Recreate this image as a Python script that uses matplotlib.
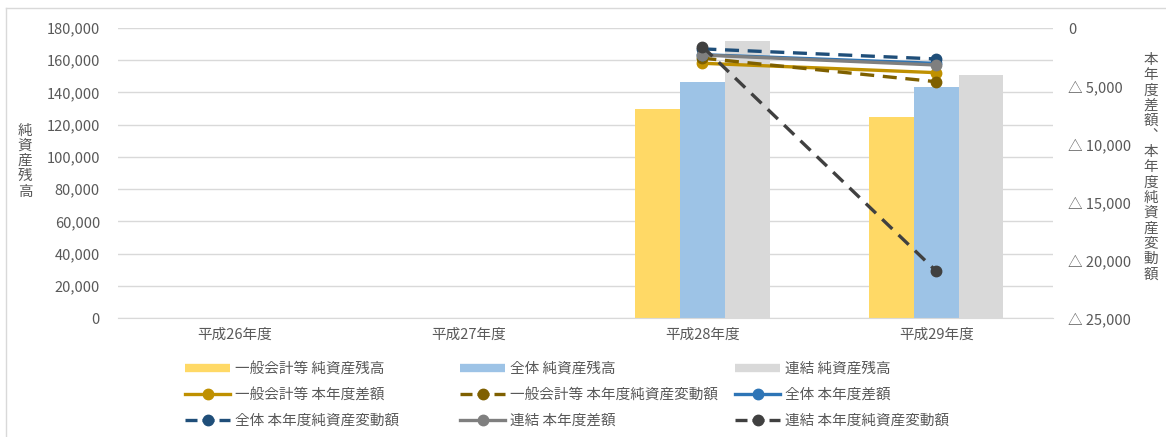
import numpy as np
import matplotlib
matplotlib.use('Agg')
import matplotlib.pyplot as plt
from matplotlib.lines import Line2D
from matplotlib.ticker import FuncFormatter, MultipleLocator

plt.rcParams['font.family'] = ['Noto Sans CJK JP', 'DejaVu Sans']

# data (千円), H26/H27 have no values
years = ['平成26年度', '平成27年度', '平成28年度', '平成29年度']

ippan_zan = [np.nan, np.nan, 129700, 125000]
zentai_zan = [np.nan, np.nan, 146700, 143600]
renketsu_zan = [np.nan, np.nan, 171900, 150800]

ippan_sagaku = [np.nan, np.nan, -3040, -3850]
ippan_hendo = [np.nan, np.nan, -2600, -4630]
zentai_sagaku = [np.nan, np.nan, -2300, -3050]
zentai_hendo = [np.nan, np.nan, -1800, -2670]
renketsu_sagaku = [np.nan, np.nan, -2330, -3190]
renketsu_hendo = [np.nan, np.nan, -1600, -20950]

txt = '#595959'
grid_c = '#D9D9D9'

fig = plt.figure(figsize=(11.66, 4.37), dpi=100)
ax = fig.add_axes([118/1166, 1-318/437, (1053-118)/1166, (318-28)/437])

x = np.arange(len(years))
w = 0.192
ax.bar(x - w, ippan_zan, w, color='#FFD966', label='一般会計等 純資産残高', zorder=2)
ax.bar(x, zentai_zan, w, color='#9DC3E6', label='全体 純資産残高', zorder=2)
ax.bar(x + w, renketsu_zan, w, color='#D9D9D9', label='連結 純資産残高', zorder=2)

ax.set_xlim(-0.5, 3.5)
ax.set_ylim(0, 180000)
ax.yaxis.set_major_locator(MultipleLocator(20000))
ax.yaxis.set_major_formatter(FuncFormatter(lambda v, p: f'{int(v):,}'))
ax.set_xticks(x)
ax.set_xticklabels(years)
ax.grid(axis='y', color=grid_c, linewidth=1.0, zorder=0)
ax.set_axisbelow(True)
for s in ['top', 'left', 'right']:
    ax.spines[s].set_visible(False)
ax.spines['bottom'].set_color(grid_c)
ax.tick_params(axis='both', length=0, colors=txt, labelsize=10.5)
ax.tick_params(axis='y', pad=13)
ax.tick_params(axis='x', pad=7)

ax2 = ax.twinx()
ax2.set_ylim(-25000, 0)
ax2.yaxis.set_major_locator(MultipleLocator(5000))
ax2.yaxis.set_major_formatter(FuncFormatter(
    lambda v, p: '0' if v == 0 else f'△ {int(abs(v)):,}'))
for s in ['top', 'left', 'right', 'bottom']:
    ax2.spines[s].set_visible(False)
ax2.tick_params(axis='y', length=0, colors=txt, labelsize=10.5, pad=11)

lw = 2.4
ms = 7.5
dash = (4.2, 2.6)
lines = [
    (ippan_sagaku, '#BF9000', '-', '一般会計等 本年度差額'),
    (ippan_hendo, '#7F6000', '--', '一般会計等 本年度純資産変動額'),
    (zentai_sagaku, '#2E75B6', '-', '全体 本年度差額'),
    (zentai_hendo, '#1F4E79', '--', '全体 本年度純資産変動額'),
    (renketsu_sagaku, '#7F7F7F', '-', '連結 本年度差額'),
    (renketsu_hendo, '#404040', '--', '連結 本年度純資産変動額'),
]
line_handles = []
for vals, c, ls, lab in lines:
    if ls == '--':
        ax2.plot(x, vals, color=c, lw=lw, marker='o', ms=ms, dashes=dash, label=lab)
        h = Line2D([], [], color=c, lw=lw, marker='o', ms=ms, dashes=(3.6, 1.5))
    else:
        h, = ax2.plot(x, vals, color=c, lw=lw, marker='o', ms=ms, label=lab)
    line_handles.append(h)

# axis titles, stacked vertically like the original
fig.text(25/1166, 1-161/437, '\n'.join('純資産残高'), ha='center', va='center',
         color=txt, fontsize=10.5, linespacing=1.12)
fig.text(1151/1166, 1-167/437, '\n'.join('本年度差額\ufe11本年度純資産変動額'),
         ha='center', va='center', color=txt, fontsize=10.5, linespacing=1.12)

# legend: 3 fixed-width columns
bar_h = [Line2D([], [], color=c, lw=6, solid_capstyle='butt') for c in ['#FFD966', '#9DC3E6', '#D9D9D9']]
bar_l = ['一般会計等 純資産残高', '全体 純資産残高', '連結 純資産残高']
all_h = bar_h + line_handles
all_l = bar_l + [l[3] for l in lines]
col_x = [185, 460, 735]
for ci in range(3):
    hs = [all_h[ci], all_h[ci + 3], all_h[ci + 6]]
    ls_ = [all_l[ci], all_l[ci + 3], all_l[ci + 6]]
    fig.legend(hs, ls_, loc='upper left', bbox_to_anchor=(col_x[ci]/1166, 1-362/437),
               frameon=False, fontsize=10.5, labelcolor=txt, handlelength=3.1,
               handletextpad=0.3, labelspacing=0.82, borderaxespad=0, borderpad=0)

# outer border
fig.add_artist(Line2D([6/1166, 6/1166], [0, 1-8/437], color='#D9D9D9', lw=1))
fig.add_artist(Line2D([6/1166, 1], [1-8/437, 1-8/437], color='#D9D9D9', lw=1))

fig.savefig('out.png', dpi=100)
